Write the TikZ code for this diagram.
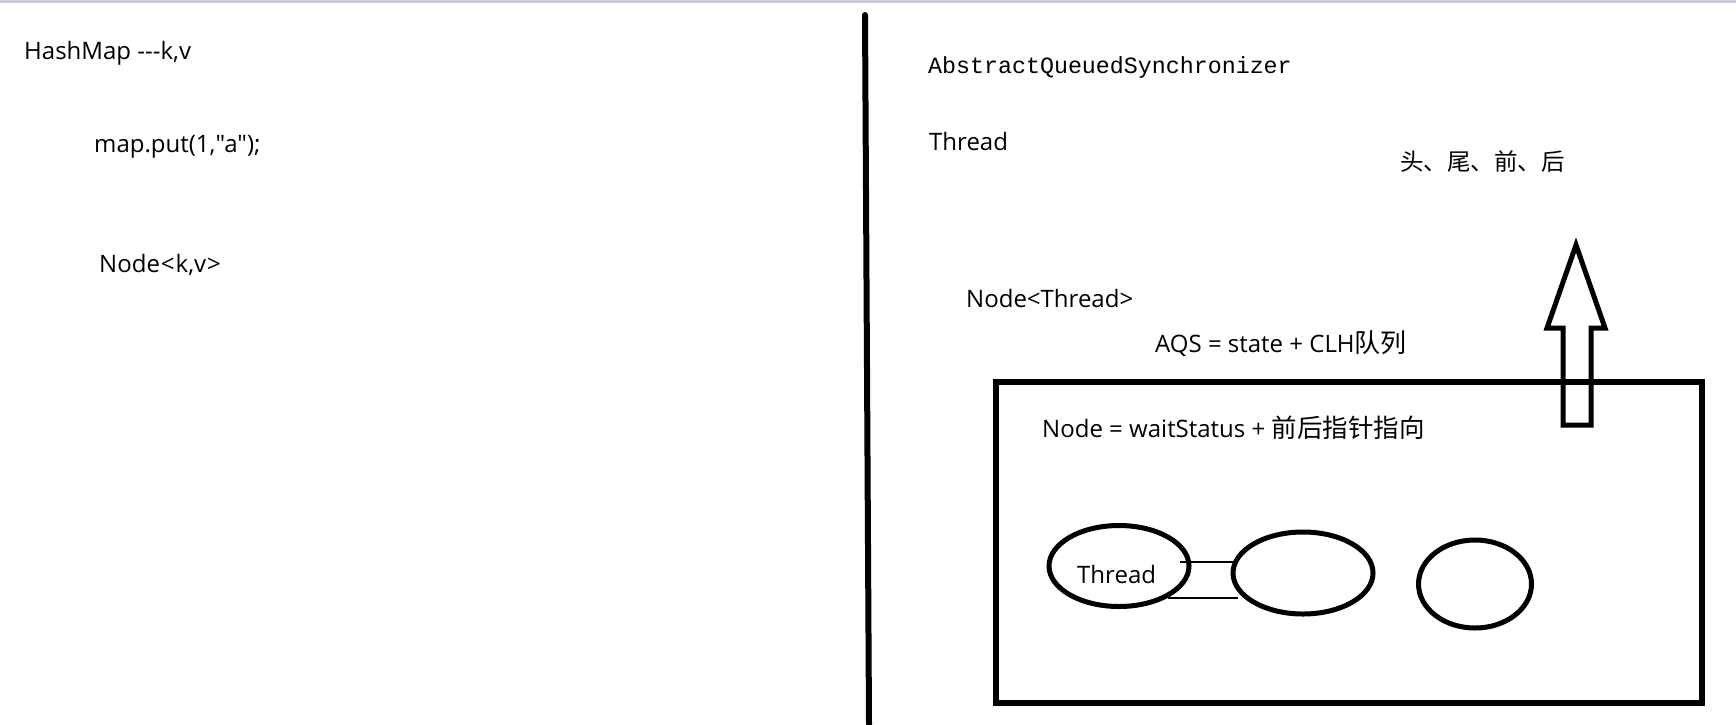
\documentclass[tikz,border=0pt]{standalone}
\usepackage{fontspec}
\setmainfont{Open Sans}[Ligatures=TeXOff]
\newfontfamily\cjk{Noto Sans CJK SC}
\newfontfamily\monof{Liberation Mono}
\usetikzlibrary{shapes.geometric}
\definecolor{bandcol}{HTML}{C8CEDC}
\tikzset{
  txt/.style={anchor=base west, inner sep=0pt, font=\fontsize{24}{28}\selectfont},
  mono/.style={anchor=base west, inner sep=0pt, font=\monof\fontsize{23.3}{28}\selectfont},
  thick stroke/.style={line width=5pt},
  qnode/.style={ellipse, draw, line width=5pt, inner sep=0pt},
  link/.style={line width=1.2pt},
}
\begin{document}
\begin{tikzpicture}[x=1pt,y=-1pt]
\useasboundingbox (0,0) rectangle (1736,724);
\fill[white] (0,0) rectangle (1736,724);
\fill[bandcol] (0,0) rectangle (1736,3);
% divider
\draw[line width=6pt, line cap=round] (865,15) -- (869,724);
% left texts
\node[txt] (hm) at (24,59) {HashMap ---k,v};
\node[txt] (put) at (94,152) {map.put(1,"a");};
\node[txt] (nkv) at (99,272) {Node\kern1pt<\kern1pt k,v\kern1pt>};
% right texts
\node[mono] (aqsname) at (928,73) {AbstractQueuedSynchronizer};
\node[txt] (thr) at (929,150) {Thread};
\node[txt, font=\cjk\fontsize{23.5}{28}\selectfont] (htqh) at (1400,170) {头、尾、前、后};
\node[txt] (nthr) at (966,307) {Node<Thread>};
\node[txt] (aqs) at (1155,352) {AQS = state + CLH{\cjk\fontsize{26}{28}\selectfont 队列}};
% box
\node[draw, line width=6pt, inner sep=0pt, minimum width=706pt, minimum height=321pt] (box) at (1349,542.5) {};
\node[txt] (ndef) at (1042,437) {Node = waitStatus + {\cjk\fontsize{25.5}{28}\selectfont 前后指针指向}};
% arrow
\draw[thick stroke, line join=miter] (1563,425) -- (1563,328) -- (1547,328) -- (1576,245) -- (1605,328) -- (1591,328) -- (1591,425) -- cycle;
% queue nodes
\node[qnode, minimum width=140pt, minimum height=81pt] (e1) at (1119,566) {};
\node[txt] (thr2) at (1077,583) {Thread};
\node[qnode, minimum width=140pt, minimum height=82pt] (e2) at (1303,573) {};
\node[qnode, minimum width=113pt, minimum height=88pt] (e3) at (1475,584) {};
\coordinate (l1a) at (1180,562);
\coordinate (l1b) at (1234,562);
\coordinate (l2a) at (1168,598);
\coordinate (l2b) at (1238,598);
\draw[link] (l1a) -- (l1b);
\draw[link] (l2a) -- (l2b);
\end{tikzpicture}
\end{document}
